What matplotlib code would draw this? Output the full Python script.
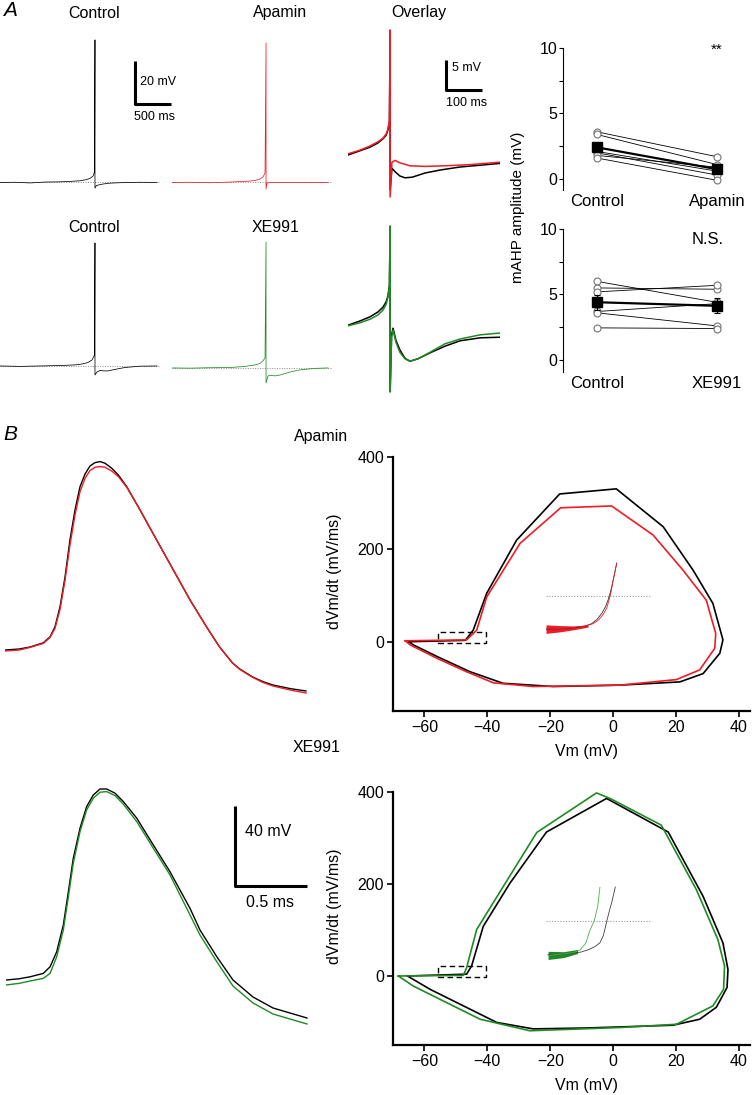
import numpy as np
import matplotlib
matplotlib.use("Agg")
import matplotlib.pyplot as plt
from matplotlib.patches import Rectangle

plt.rcParams['font.family'] = ['Liberation Sans', 'DejaVu Sans']

RED = '#ee1c25'
GREEN = '#1f8a24'

# ---- panel A: whole-cell traces (ms, mV relative to baseline) ----
ctrl1_t = [0, 208, 417, 625, 833, 972, 1111, 1194, 1250, 1292, 1313, 1319, 1319, 1340, 1375, 1431, 1528, 1667, 1944, 2181]
ctrl1_v = [0, 0.1, -0.2, 0.2, 0.3, 0.5, 0.8, 1.3, 1.9, 3.0, 4.9, 66.3, -2.6, -1.4, -1.1, -0.7, -0.3, -0.1, 0.1, 0]
apa_t = [0, 250, 528, 806, 1014, 1153, 1222, 1264, 1292, 1306, 1306, 1319, 1361, 1639, 1917, 2167]
apa_v = [0, 0.1, -0.1, 0.2, 0.5, 0.9, 1.6, 2.6, 4.4, 64.9, -3.0, -0.2, -0.05, 0.05, -0.05, 0]
ctrl2_t = [0, 278, 556, 833, 1042, 1139, 1222, 1278, 1313, 1319, 1319, 1347, 1389, 1444, 1500, 1597, 1736, 1944, 2181]
ctrl2_v = [0, -0.2, 0, 0.2, 0.5, 0.9, 1.6, 2.8, 5.1, 57.2, -4.2, -2.8, -2.1, -2.3, -2.3, -1.6, -0.7, -0.1, 0]
xe_t = [0, 250, 528, 806, 1014, 1153, 1222, 1264, 1292, 1306, 1306, 1333, 1375, 1431, 1500, 1639, 1778, 1986, 2167]
xe_v = [0, -0.1, 0.1, 0.2, 0.7, 1.4, 2.1, 3.3, 4.7, 58.6, -7.0, -3.7, -3.5, -3.7, -3.3, -1.9, -0.9, -0.2, 0]

# overlays (expanded time scale)
ov1_ctrl_t = [0, 33, 61, 83, 97, 106, 111, 115, 117, 117, 122, 131, 144, 158, 178, 214, 256, 311, 367, 422]
ov1_ctrl_v = [4.5, 5.2, 5.8, 6.5, 7.2, 7.8, 8.7, 10.0, 25.3, -1.3, 2.3, 1.7, 1.0, 0.7, 0.8, 1.5, 2.0, 2.5, 2.8, 3.1]
ov1_apa_t = [0, 33, 61, 83, 97, 106, 111, 115, 117, 117, 122, 131, 144, 172, 214, 269, 339, 422]
ov1_apa_v = [4.7, 5.3, 6.0, 6.7, 7.3, 8.0, 8.8, 10.3, 25.3, -2.5, 3.3, 3.6, 3.2, 2.7, 2.6, 2.7, 2.9, 3.3]
ov2_t = [0, 33, 61, 83, 97, 106, 111, 115, 117, 117, 121, 125, 133, 144, 158, 172, 194, 228, 269, 311, 367, 422]
ov2_ctrl_v = [6.8, 7.5, 8.2, 9.0, 9.8, 10.7, 11.7, 13.5, 23.3, -4.3, 5.2, 6.3, 4.3, 2.7, 1.3, 0.8, 1.2, 2.2, 3.3, 4.2, 4.7, 4.8]
ov2_xe_v = [6.7, 7.2, 7.8, 8.5, 9.3, 10.3, 11.5, 13.3, 23.3, -4.3, 4.8, 6.0, 4.0, 2.3, 1.2, 0.8, 1.2, 2.3, 3.7, 4.5, 5.2, 5.5]

# mAHP amplitudes (mV)
groups_apa = ['Control', 'Apamin']
mahp_ctrl_apa = [3.6, 3.4, 2.1, 2.0, 1.8, 1.6]
mahp_apa = [1.7, 1.1, 0.6, 0.3, 0.9, -0.1]
groups_xe = ['Control', 'XE991']
mahp_ctrl_xe = [6.0, 5.5, 5.2, 3.7, 3.6, 2.45]
mahp_xe = [4.4, 5.4, 5.7, 4.3, 2.6, 2.4]

# ---- panel B: single APs (ms, mV) ----
ap1_t = [0, 0.10, 0.174, 0.266, 0.313, 0.347, 0.382, 0.417, 0.451, 0.486, 0.521, 0.556, 0.590, 0.625, 0.660,
         0.694, 0.741, 0.787, 0.845, 0.938, 1.053, 1.169, 1.285, 1.40, 1.49, 1.58, 1.63, 1.72, 1.79, 1.86, 1.98, 2.09]
ap1_ctrl = [-65, -64.5, -63.5, -61.4, -58.4, -53.4, -43.4, -28.4, -10, 5, 16.7, 23, 27, 28.7, 29.2,
            28.4, 25.9, 22.5, 16.7, 5, -10, -25, -40, -53.5, -63.5, -71.5, -74.5, -78.5, -80.8, -82.5, -84.3, -85.5]
ap1_apa = [-65.5, -65, -63.7, -61.7, -58.7, -54.2, -44.7, -30, -12.5, 2.5, 14.2, 20.9, 24.7, 26.4, 26.7,
           26.4, 24.5, 21.7, 16.4, 5, -10, -25, -40, -53.5, -63.5, -71.5, -74.7, -78.7, -81.2, -83, -85, -86.5]
ap2_t = [0, 0.09, 0.167, 0.259, 0.306, 0.352, 0.398, 0.433, 0.467, 0.514, 0.560, 0.606, 0.653, 0.699,
         0.757, 0.815, 0.908, 1.023, 1.139, 1.278, 1.347, 1.465, 1.576, 1.715, 1.854, 2.09]
ap2_ctrl = [-65, -64.4, -63.4, -61.7, -58.4, -50.9, -37.5, -20.9, -4.2, 10.9, 21.7, 27.5, 30.5, 30.5,
            28.4, 24.2, 15.9, 2.5, -10.9, -29.2, -40, -53.5, -65, -73.5, -79, -84]
ap2_xe = [-67.5, -66.7, -65.5, -64.2, -61.7, -53.4, -40, -23.4, -6.7, 9.2, 20, 25.9, 28.9, 29.2,
          27.2, 22.9, 14.2, 0.9, -12.5, -32.5, -42.5, -56, -68, -76.5, -82, -87]

# phase plots (Vm in mV, dVm/dt in mV/ms)
ph1_ctrl_v = [-65, -47, -44.5, -40.2, -30.7, -17, 1, 15.9, 25.4, 31.7, 34.9, 33.9, 28.6, 21.2, 2.1, -19, -35, -45.5, -56, -63.5, -65]
ph1_ctrl_d = [0, 3, 25, 105, 220, 320, 331, 249, 155, 83, 4, -25, -69, -87, -94, -97, -90, -65, -32, -7, 0]
ph1_apa_v = [-66.1, -46.6, -43.4, -40.2, -29.6, -16.7, -0.5, 12.7, 22.2, 29.6, 32.6, 32.3, 27.5, 20.1, 2.1, -25.4, -38.1, -46.6, -56, -64.5, -66.1]
ph1_apa_d = [2, 4, 25, 97, 213, 290, 294, 231, 155, 90, 18, -14, -61, -82, -94, -97, -89, -65, -36, -7, 2]
ph2_ctrl_v = [-65.4, -46.6, -45, -41.3, -32.8, -21.2, -2.1, 17.5, 28.6, 34.9, 36.5, 36.2, 32.8, 27.5, 19, -8.5, -25.4, -37, -47.6, -58.2, -65.4]
ph2_ctrl_d = [0, 4, 22, 108, 202, 313, 386, 313, 173, 72, 14, -25, -68, -94, -107, -113, -115, -101, -65, -29, 0]
ph2_xe_v = [-68.3, -47.6, -46.6, -43.4, -34.9, -24.3, -5.3, -1, 15.3, 26.5, 33.3, 35.4, 35.1, 31.7, 20.1, 2.1, -26.5, -42.3, -52.9, -63.5, -68.3]
ph2_xe_d = [0, 1.4, 18, 101, 195, 312, 398, 386, 328, 187, 79, 22, -29, -65, -105, -112, -119, -94, -58, -22, 0]

# insets: expanded threshold region
in1_ctrl_v = [-56, -54, -52, -50.5, -49.5, -48.7, -48.0, -47.5, -47.1, -46.8, -46.5, -46.2, -45.9]
in1_ctrl_d = [0.9, 1.0, 1.3, 1.7, 2.4, 3.6, 5.3, 7.0, 9.0, 11.0, 13.3, 16.0, 18.8]
in1_apa_v = [-56, -54, -52, -50.4, -49.3, -48.5, -47.8, -47.3, -47.0, -46.7, -46.5, -46.2, -45.9]
in1_apa_d = [1.0, 1.1, 1.4, 1.8, 2.4, 3.4, 5.0, 6.8, 8.8, 11.0, 13.3, 16.0, 18.8]
in1_noise_v = [-56, -54, -52, -50]
in1_noise_hi = [2.1, 1.9, 1.8, 2.1]
in1_noise_lo = [-0.2, 0.2, 0.8, 1.5]
in2_ctrl_v = [-55.7, -53, -51, -50, -49, -48.3, -47.8, -47.3, -46.9, -46.6, -46.1]
in2_ctrl_d = [0.8, 1.0, 1.5, 2.1, 3.0, 4.0, 6.0, 10, 13, 15, 19.1]
in2_xe_v = [-55.7, -53.5, -52, -51.1, -50.3, -49.7, -49.1, -48.6, -48.3]
in2_xe_d = [0.6, 1.0, 1.4, 2.1, 4.0, 7.5, 10, 14, 19]
in2_noise_v = [-55.7, -53.5, -51.5]
in2_noise_hi = [1.7, 1.6, 2.2]
in2_noise_lo = [-0.5, 0.0, 1.1]
thr = 10

W, H = 756, 1095
fig = plt.figure(figsize=(W / 100, H / 100), dpi=100)


def px_axes(x0, y0, x1, y1):
    return fig.add_axes([x0 / W, 1 - y1 / H, (x1 - x0) / W, (y1 - y0) / H])


def ftext(x, y, s, **kw):
    kw.setdefault('ha', 'center')
    kw.setdefault('va', 'center')
    fig.text(x / W, 1 - y / H, s, **kw)


def blank(ax):
    ax.set_axis_off()


# ---- A: trace panels ----
a1 = px_axes(0, 30, 160, 200)
a1.axhline(0, color='0.55', lw=0.7, ls=(0, (1, 1.5)))
a1.plot(ctrl1_t, ctrl1_v, color='k', lw=0.55)
a1.set_xlim(0, 2222)
a1.set_ylim(-8.14, 70.9)
a1.plot([1875, 1875, 2375], [56.5, 36.5, 36.5], color='k', lw=2.2, clip_on=False, solid_capstyle='butt')
blank(a1)

a2 = px_axes(172, 30, 332, 200)
a2.axhline(0, color='0.55', lw=0.7, ls=(0, (1, 1.5)))
a2.plot(apa_t, apa_v, color=RED, lw=0.55)
a2.set_xlim(0, 2222)
a2.set_ylim(-8.14, 70.9)
blank(a2)

a3 = px_axes(348, 25, 500, 200)
a3.plot(ov1_ctrl_t, ov1_ctrl_v, color='k', lw=1.1)
a3.plot(ov1_apa_t, ov1_apa_v, color=RED, lw=1.1)
a3.set_xlim(0, 422)
a3.set_ylim(-3.0, 26.17)
a3.plot([272, 272, 372], [20.3, 15.3, 15.3], color='k', lw=2.2, clip_on=False, solid_capstyle='butt')
blank(a3)

a4 = px_axes(0, 215, 160, 395)
a4.axhline(0, color='0.55', lw=0.7, ls=(0, (1, 1.5)))
a4.plot(ctrl2_t, ctrl2_v, color='k', lw=0.55)
a4.set_xlim(0, 2222)
a4.set_ylim(-13.5, 70.2)
blank(a4)

a5 = px_axes(172, 215, 332, 395)
a5.axhline(0, color='0.55', lw=0.7, ls=(0, (1, 1.5)))
a5.plot(xe_t, xe_v, color=GREEN, lw=0.55)
a5.set_xlim(0, 2222)
a5.set_ylim(-12.6, 71.2)
blank(a5)

a6 = px_axes(348, 215, 500, 395)
a6.plot(ov2_t, ov2_ctrl_v, color='k', lw=1.1)
a6.plot(ov2_t, ov2_xe_v, color=GREEN, lw=1.1)
a6.set_xlim(0, 422)
a6.set_ylim(-4.83, 25.17)
blank(a6)

ftext(3, 11, 'A', ha='left', fontsize=15, style='italic')
ftext(94, 13, 'Control', fontsize=11.5)
ftext(280, 13, 'Apamin', fontsize=11.5)
ftext(419, 13, 'Overlay', fontsize=11.5)
ftext(94, 228, 'Control', fontsize=11.5)
ftext(276, 228, 'XE991', fontsize=11.5)
ftext(140, 82, '20 mV', ha='left', fontsize=9)
ftext(154, 117, '500 ms', fontsize=9)
ftext(452, 68, '5 mV', ha='left', fontsize=9)
ftext(467, 103, '100 ms', fontsize=9)


# ---- A: mAHP summary ----
def mahp_panel(ax, before, after, names):
    for b, a in zip(before, after):
        ax.plot([0, 1], [b, a], color='k', lw=0.6, zorder=1)
    ax.plot(np.zeros(len(before)), before, 'o', mfc='white', mec='0.45', ms=5, mew=0.8, zorder=2)
    ax.plot(np.ones(len(after)), after, 'o', mfc='white', mec='0.45', ms=5, mew=0.8, zorder=2)
    means = [np.mean(before), np.mean(after)]
    sems = [np.std(before, ddof=1) / np.sqrt(len(before)), np.std(after, ddof=1) / np.sqrt(len(after))]
    ax.errorbar([0, 1], means, yerr=sems, color='k', lw=1.6, marker='s', ms=7,
                capsize=2, elinewidth=0.8, capthick=0.8, zorder=3)
    ax.set_xlim(-0.283, 1.233)
    ax.set_xticks([0, 1])
    ax.set_xticklabels(names, fontsize=12)
    ax.set_yticks([0, 5, 10])
    ax.set_yticks([2.5, 7.5], minor=True)
    ax.tick_params(axis='x', length=0, pad=3)
    ax.tick_params(axis='y', which='both', length=3, width=0.8, pad=1, labelsize=11.5, direction='out')
    for s in ['top', 'right', 'bottom']:
        ax.spines[s].set_visible(False)
    ax.spines['left'].set_linewidth(0.8)


s1 = px_axes(563, 48, 745, 190)
mahp_panel(s1, mahp_ctrl_apa, mahp_apa, groups_apa)
s1.set_ylim(-0.84, 10)
s1.text(1, 9.9, '**', ha='center', va='center', fontsize=11)

s2 = px_axes(563, 229, 745, 372)
mahp_panel(s2, mahp_ctrl_xe, mahp_xe, groups_xe)
s2.set_ylim(-0.92, 10)
s2.text(0.92, 9.2, 'N.S.', ha='center', va='center', fontsize=12)

ftext(518, 207, 'mAHP amplitude (mV)', rotation=90, fontsize=11)

# ---- B: action potentials ----
b1 = px_axes(5, 440, 307, 720)
b1.plot(ap1_t, ap1_ctrl, color='k', lw=1.0)
b1.plot(ap1_t, ap1_apa, color=RED, lw=1.0)
b1.set_xlim(0, 2.097)
b1.set_ylim(-100, 40)
blank(b1)

b3 = px_axes(6, 760, 308, 1060)
b3.plot(ap2_t, ap2_ctrl, color='k', lw=1.0)
b3.plot(ap2_t, ap2_xe, color=GREEN, lw=1.0)
b3.set_xlim(0, 2.097)
b3.set_ylim(-105, 45)
b3.plot([1.59, 1.59, 2.09], [22, -18, -18], color='k', lw=2.2, clip_on=False, solid_capstyle='butt')
b3.text(1.66, 9, '40 mV', ha='left', va='center', fontsize=11.5)
b3.text(1.83, -26.5, '0.5 ms', ha='center', va='center', fontsize=11.5)
blank(b3)

ftext(3, 435, 'B', ha='left', fontsize=15, style='italic')
ftext(294, 437, 'Apamin', ha='left', fontsize=11.5)
ftext(293, 748, 'XE991', ha='left', fontsize=11.5)


# ---- B: phase plots ----
def phase_panel(ax):
    ax.set_xlim(-70, 43.5)
    ax.set_ylim(-150, 400)
    ax.set_xticks([-60, -40, -20, 0, 20, 40])
    ax.set_xticklabels(['\u221260', '\u221240', '\u221220', '0', '20', '40'])
    ax.set_yticks([0, 200, 400])
    for s in ['top', 'right']:
        ax.spines[s].set_visible(False)
    for s in ['left', 'bottom']:
        ax.spines[s].set_linewidth(1.6)
    ax.tick_params(length=4.5, width=1.2, labelsize=11.5, pad=2)
    ax.set_xlabel('Vm (mV)', fontsize=11.5, labelpad=1)
    ax.set_ylabel('dVm/dt (mV/ms)', fontsize=11.5)
    ax.yaxis.set_label_coords(-0.143, 0.55)
    ax.xaxis.set_label_coords(0.543, -0.13)
    ax.add_patch(Rectangle((-55.8, -2.5), 15.3, 24, fill=False, ec='k', lw=1.0, ls=(0, (4, 2.5))))


p1 = px_axes(393, 457, 750, 711)
p1.plot(ph1_ctrl_v, ph1_ctrl_d, color='k', lw=1.2)
p1.plot(ph1_apa_v, ph1_apa_d, color=RED, lw=1.2)
phase_panel(p1)

i1 = px_axes(546, 555, 651, 640)
i1.axhline(thr, color='0.6', lw=0.8, ls=(0, (1, 1.5)))
i1.fill_between(in1_noise_v, in1_noise_lo, in1_noise_hi, color=RED, lw=0)
i1.plot(in1_ctrl_v, in1_ctrl_d, color='0.2', lw=0.6)
i1.plot(in1_apa_v, in1_apa_d, color=RED, lw=0.6)
i1.set_xlim(-56, -41)
i1.set_ylim(-2, 21)
blank(i1)

p2 = px_axes(393, 792, 750, 1045)
p2.plot(ph2_ctrl_v, ph2_ctrl_d, color='k', lw=1.2)
p2.plot(ph2_xe_v, ph2_xe_d, color=GREEN, lw=1.2)
phase_panel(p2)

i2 = px_axes(546, 880, 651, 965)
i2.axhline(thr, color='0.6', lw=0.8, ls=(0, (1, 1.5)))
i2.fill_between(in2_noise_v, in2_noise_lo, in2_noise_hi, color=GREEN, lw=0)
i2.plot(in2_ctrl_v, in2_ctrl_d, color='0.25', lw=0.6)
i2.plot(in2_xe_v, in2_xe_d, color='#4caf50', lw=0.6)
i2.set_xlim(-56, -41)
i2.set_ylim(-2, 21)
blank(i2)

fig.savefig('out.png', dpi=100)
